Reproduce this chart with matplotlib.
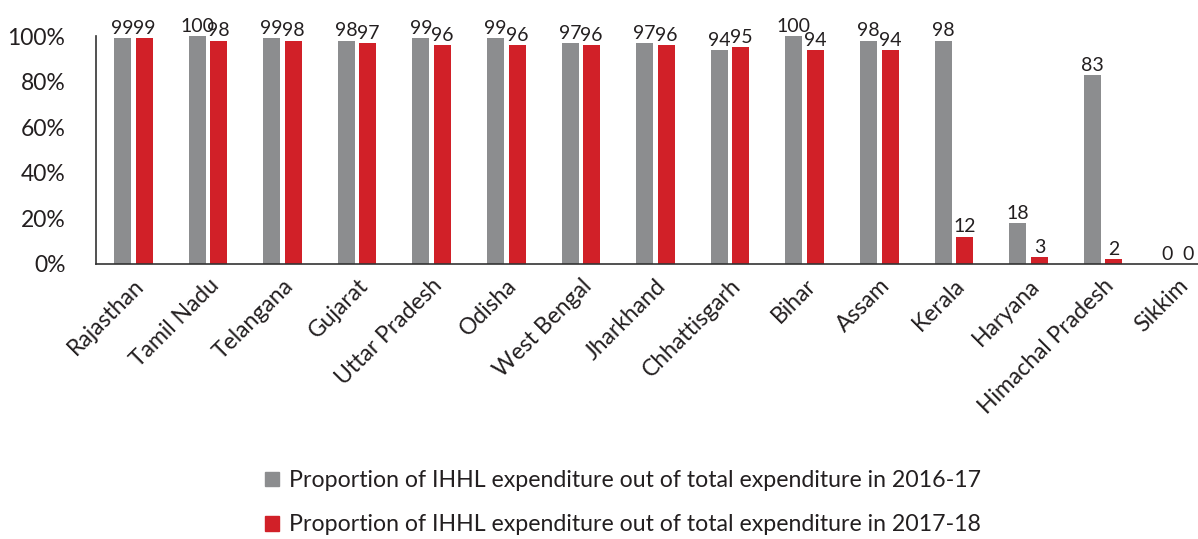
import numpy as np
import matplotlib.pyplot as plt
from matplotlib.patches import Patch

states = ["Rajasthan", "Tamil Nadu", "Telangana", "Gujarat", "Uttar Pradesh",
          "Odisha", "West Bengal", "Jharkhand", "Chhattisgarh", "Bihar",
          "Assam", "Kerala", "Haryana", "Himachal Pradesh", "Sikkim"]
share_2016 = [99, 100, 99, 98, 99, 99, 97, 97, 94, 100, 98, 98, 18, 83, 0]
share_2017 = [99, 98, 98, 97, 96, 96, 96, 96, 95, 94, 94, 12, 3, 2, 0]
series_names = ["Proportion of IHHL expenditure out of total expenditure in 2016-17",
                "Proportion of IHHL expenditure out of total expenditure in 2017-18"]

grey = "#8c8d8f"
red = "#d12028"
txt = "#231f20"

plt.rcParams['font.family'] = ['Lato', 'DejaVu Sans']

fig = plt.figure(figsize=(11.98, 5.39), dpi=100)
ax = fig.add_axes([96 / 1198, 1 - 264 / 539, 1119 / 1198, 228 / 539])

x = np.arange(len(states))
off = 0.145
w = 0.23
b1 = ax.bar(x - off, share_2016, w, color=grey)
b2 = ax.bar(x + off, share_2017, w, color=red)

# value labels above each bar
for bars, vals in [(b1, share_2016), (b2, share_2017)]:
    for r, v in zip(bars, vals):
        ax.text(r.get_x() + r.get_width() / 2, v + 0.5, str(v), ha='center', va='bottom',
                fontsize=14, color=txt, clip_on=False)

ax.set_xlim(-0.5, len(states) - 0.5)
ax.set_ylim(0, 100)
ax.set_yticks(range(0, 101, 20))
ax.set_yticklabels([f"{t}%" for t in range(0, 101, 20)], fontsize=16.5, color=txt)
ax.set_xticks(x)
ax.set_xticklabels(states, rotation=45, ha='right', rotation_mode='anchor',
                   fontsize=16.5, color=txt)
ax.tick_params(axis='y', length=0, pad=22)
ax.tick_params(axis='x', length=0, pad=8)
for s in ['top', 'right']:
    ax.spines[s].set_visible(False)
ax.spines['left'].set_color('#333333')
ax.spines['bottom'].set_color('#333333')
ax.spines['left'].set_linewidth(1.2)
ax.spines['bottom'].set_linewidth(1.2)

handles = [Patch(color=grey), Patch(color=red)]
fig.legend(handles, series_names, loc='center', bbox_to_anchor=(0.52, 0.067),
           ncol=1, frameon=False, fontsize=16.7, handlelength=0.6, handleheight=0.6,
           handletextpad=0.4, labelspacing=1.0, labelcolor=txt,
           bbox_transform=fig.transFigure)

fig.savefig("out.png", dpi=100)
